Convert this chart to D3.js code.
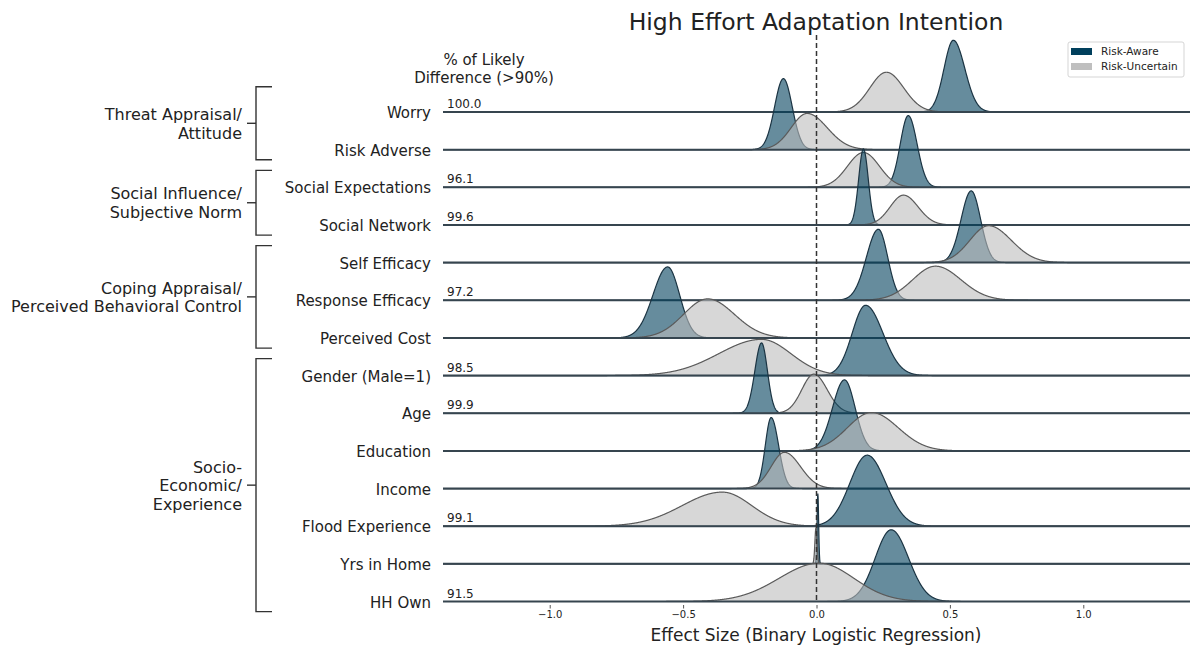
<!DOCTYPE html>
<html>
<head>
<meta charset="utf-8">
<script src="https://cdn.jsdelivr.net/npm/d3@7"></script>
<style>
  body { margin: 0; background: #fff; }
  text { font-family: "DejaVu Sans", sans-serif; fill: #222; }
</style>
</head>
<body>
<div id="chart"></div>
<script>
// Row labels (top to bottom)
var factors = ["Worry", "Risk Adverse", "Social Expectations", "Social Network",
  "Self Efficacy", "Response Efficacy", "Perceived Cost", "Gender (Male=1)", "Age",
  "Education", "Income", "Flood Experience", "Yrs in Home", "HH Own"];

// % of likely difference (blank where not shown)
var likelyPct = ["100.0", "", "96.1", "99.6", "", "97.2", "", "98.5", "99.9", "", "", "99.1", "", "91.5"];

// Risk-Aware posterior: mode, left spread, right spread, peak density
var awareMode = [0.513, -0.124, 0.344, 0.176, 0.58, 0.232, -0.558, 0.184, -0.206, 0.105, -0.17, 0.19, 0.005, 0.28];
var awareSdL  = [0.035, 0.033, 0.030, 0.018, 0.038, 0.045, 0.055, 0.050, 0.025, 0.045, 0.022, 0.065, 0.003, 0.060];
var awareSdR  = [0.043, 0.033, 0.033, 0.018, 0.035, 0.035, 0.045, 0.065, 0.022, 0.040, 0.028, 0.070, 0.003, 0.065];
var awarePeak = [10.1, 10.0, 10.1, 10.7, 10.1, 10.0, 10.0, 9.9, 9.9, 10.0, 10.0, 10.0, 9.9, 10.1];

// Risk-Uncertain posterior
var uncertMode = [0.262, -0.035, 0.176, 0.326, 0.645, 0.446, -0.408, -0.206, -0.01, 0.206, -0.12, -0.353, -0.002, 0.01];
var uncertSdL  = [0.062, 0.060, 0.060, 0.050, 0.070, 0.085, 0.090, 0.160, 0.045, 0.090, 0.050, 0.150, 0.004, 0.150];
var uncertSdR  = [0.065, 0.075, 0.060, 0.055, 0.085, 0.095, 0.100, 0.110, 0.050, 0.100, 0.060, 0.110, 0.004, 0.130];
var uncertPeak = [5.6, 5.1, 4.9, 4.2, 5.2, 4.8, 5.5, 5.1, 5.5, 5.4, 5.1, 4.8, 5.1, 5.4];

// Construct groups
var groupLabels = [["Threat Appraisal/", "Attitude"], ["Social Influence/", "Subjective Norm"],
  ["Coping Appraisal/", "Perceived Behavioral Control"], ["Socio-", "Economic/", "Experience"]];
var groupFirst = [0, 2, 4, 7];
var groupLast = [1, 3, 6, 13];

var xTicks = [-1.0, -0.5, 0.0, 0.5, 1.0];

var svgWidth = 1192;
var svgHeight = 651;

var svg = d3.select("#chart")
    .append("svg")
    .attr("width", svgWidth)
    .attr("height", svgHeight);

var xScale = d3.scaleLinear().domain([-1.4, 1.4]).range([443, 1190]);
var yScale = d3.scalePoint().domain(factors).range([112, 601.5]);
var step = yScale.step();
var hScale = d3.scaleLinear().domain([0, 10]).range([0, 71]);

var grid = d3.range(-1.4, 1.4005, 0.001);

function splitNormal(m, sl, sr, peak) {
  return grid.map(function(x) {
    var s = x < m ? sl : sr;
    var z = (x - m) / s;
    return [x, peak * Math.exp(-0.5 * z * z)];
  });
}

var rows = factors.map(function(f, i) {
  return {
    name: f,
    pct: likelyPct[i],
    aware: splitNormal(awareMode[i], awareSdL[i], awareSdR[i], awarePeak[i]),
    uncert: splitNormal(uncertMode[i], uncertSdL[i], uncertSdR[i], uncertPeak[i])
  };
});

var plot = svg.append("g");

rows.forEach(function(r) {
  var base = yScale(r.name);
  var area = d3.area()
      .x(function(d) { return xScale(d[0]); })
      .y0(base)
      .y1(function(d) { return base - hScale(d[1]); });
  var line = d3.line()
      .x(function(d) { return xScale(d[0]); })
      .y(function(d) { return base - hScale(d[1]); });

  var g = plot.append("g");
  g.append("path").datum(r.aware).attr("d", area)
      .attr("fill", "#003f5c").attr("fill-opacity", 0.6);
  g.append("path").datum(r.aware).attr("d", line)
      .attr("fill", "none").attr("stroke", "#1b3443").attr("stroke-width", 1.2);
  g.append("path").datum(r.uncert).attr("d", area)
      .attr("fill", "#bdbdbd").attr("fill-opacity", 0.6);
  g.append("path").datum(r.uncert).attr("d", line)
      .attr("fill", "none").attr("stroke", "#5a5a5a").attr("stroke-width", 1.2);
  g.append("line")
      .attr("x1", xScale(-1.4)).attr("x2", xScale(1.4))
      .attr("y1", base).attr("y2", base)
      .attr("stroke", "#36454f").attr("stroke-width", 2);
});

// zero reference line
svg.append("line")
    .attr("x1", xScale(0)).attr("x2", xScale(0))
    .attr("y1", 35).attr("y2", 603)
    .attr("stroke", "#333").attr("stroke-width", 1.5)
    .attr("stroke-dasharray", "5,3");

// row labels and % labels
svg.selectAll(".rowlabel")
    .data(rows)
    .enter()
    .append("text")
    .attr("class", "rowlabel")
    .attr("x", 431)
    .attr("y", function(d) { return yScale(d.name) + 6; })
    .attr("text-anchor", "end")
    .style("font-size", "15px")
    .text(function(d) { return d.name; });

svg.selectAll(".pct")
    .data(rows.filter(function(d) { return d.pct; }))
    .enter()
    .append("text")
    .attr("class", "pct")
    .attr("x", 447)
    .attr("y", function(d) { return yScale(d.name) - 4; })
    .style("font-size", "12px")
    .text(function(d) { return d.pct; });

svg.append("text").attr("x", 484).attr("y", 65).attr("text-anchor", "middle")
    .style("font-size", "15px").text("% of Likely");
svg.append("text").attr("x", 484).attr("y", 83).attr("text-anchor", "middle")
    .style("font-size", "15px").text("Difference (>90%)");

// group brackets
groupLabels.forEach(function(lines, gi) {
  var top = yScale(factors[groupFirst[gi]]) - 0.45 * step;
  var bot = yScale(factors[groupLast[gi]]) + 0.27 * step;
  if (gi === 0) top = yScale(factors[0]) - 0.67 * step;
  var mid = (top + bot) / 2;
  var b = svg.append("g").attr("stroke", "#333").attr("stroke-width", 1.4).attr("fill", "none");
  b.append("path").attr("d", "M272," + top + "H256V" + bot + "H272");
  b.append("path").attr("d", "M247," + mid + "H256");
  var n = lines.length;
  lines.forEach(function(t, k) {
    svg.append("text")
        .attr("x", 242)
        .attr("y", mid + (k - (n - 1) / 2) * 18.5 + 6)
        .attr("text-anchor", "end")
        .style("font-size", "16px")
        .text(t);
  });
});

// x axis (ticks + labels only)
var xAxis = d3.axisBottom(xScale).tickValues(xTicks).tickSize(3.5).tickPadding(2)
    .tickFormat(d3.format(".1f"));
var axisG = svg.append("g")
    .attr("transform", "translate(0, 605)")
    .call(xAxis);
axisG.select(".domain").remove();
axisG.selectAll("line").attr("stroke", "#555");
axisG.selectAll("text").style("font-size", "10px").style("font-family", "DejaVu Sans").attr("fill", "#222");

svg.append("text").attr("x", 816).attr("y", 641).attr("text-anchor", "middle")
    .style("font-size", "17px").text("Effect Size (Binary Logistic Regression)");

svg.append("text").attr("x", 816).attr("y", 30).attr("text-anchor", "middle")
    .style("font-size", "23.5px").text("High Effort Adaptation Intention");

// legend
var legend = svg.append("g").attr("transform", "translate(1068, 42)");
legend.append("rect").attr("width", 116).attr("height", 35).attr("rx", 2)
    .attr("fill", "#fff").attr("stroke", "#d5d5d5");
var legendNames = ["Risk-Aware", "Risk-Uncertain"];
var legendColors = ["#003f5c", "#bfbfbf"];
legendNames.forEach(function(n, i) {
  legend.append("rect").attr("x", 3).attr("y", 6 + i * 15).attr("width", 21).attr("height", 7)
      .attr("fill", legendColors[i]);
  legend.append("text").attr("x", 33).attr("y", 13 + i * 15)
      .style("font-size", "10.5px").text(n);
});
</script>
</body>
</html>
